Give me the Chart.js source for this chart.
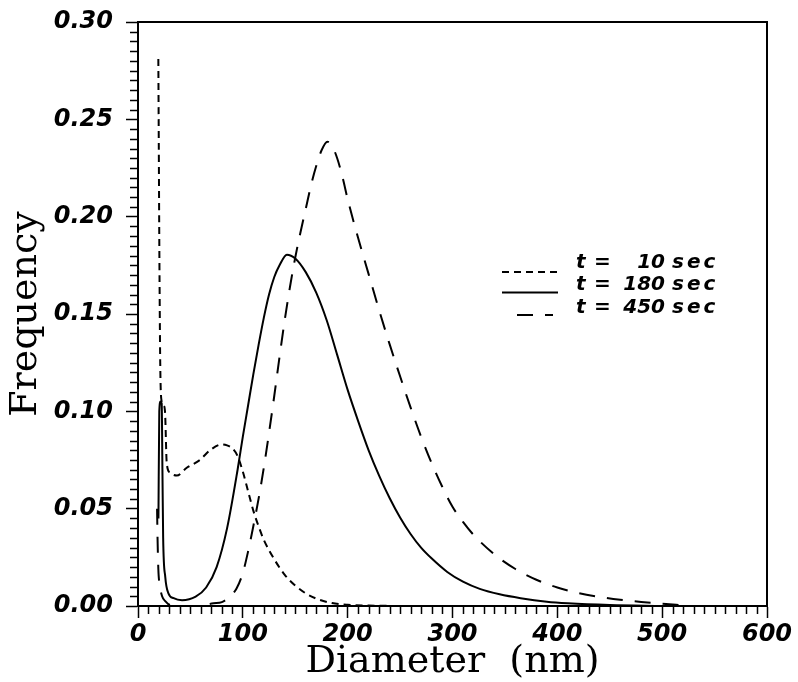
<!DOCTYPE html>
<html>
<head>
<meta charset="utf-8">
<script src="https://cdn.jsdelivr.net/npm/chart.js@4"></script>
<style>
  html, body { margin: 0; padding: 0; background: #ffffff; }
  #wrap { width: 798px; height: 682px; }
</style>
</head>
<body>
<div id="wrap"><canvas id="c" width="798" height="682"></canvas></div>
<script>
// ---- data ----
const seriesTimes = [10, 180, 450];

const t10X = [19.4, 19.8, 20.4, 21.2, 22.6, 24.5, 25.8, 27.4, 30.5, 37, 46.5, 59, 68.7, 80, 85, 90, 95, 100, 105, 110, 115, 120, 130, 140, 150, 160, 170, 185, 200, 220, 250];
const t10Y = [0.281, 0.24, 0.18, 0.125, 0.105, 0.103, 0.0995, 0.0735, 0.0685, 0.067, 0.071, 0.075, 0.080, 0.083, 0.0825, 0.081, 0.077, 0.069, 0.059, 0.049, 0.041, 0.034, 0.024, 0.016, 0.0105, 0.0065, 0.0038, 0.0015, 0.0006, 0.0002, 0];

const t180X = [19.5, 20.3, 21.5, 22.6, 23.3, 24, 26, 29, 34, 42, 55, 65, 75, 85, 95, 100, 105, 110, 115, 120, 125, 130, 135, 142, 150, 160, 170, 180, 190, 200, 210, 220, 230, 240, 250, 260, 270, 280, 295, 310, 326, 345, 365, 390, 410, 450, 500];
const t180Y = [0.045, 0.100, 0.105, 0.104, 0.07, 0.035, 0.015, 0.0065, 0.004, 0.003, 0.0048, 0.0095, 0.020, 0.040, 0.070, 0.087, 0.103, 0.119, 0.134, 0.148, 0.160, 0.169, 0.175, 0.1805, 0.1785, 0.1715, 0.161, 0.1468, 0.129, 0.111, 0.095, 0.080, 0.067, 0.0555, 0.0455, 0.037, 0.030, 0.0245, 0.0175, 0.0125, 0.0088, 0.006, 0.004, 0.0022, 0.0014, 0.0005, 0];

const t450X = [18.2, 18.6, 19.4, 21, 23, 26, 30.5, 40, 55, 72, 80, 88, 94, 100, 105, 110, 115, 120, 125, 130, 135, 140, 145, 150, 155, 160, 165, 170, 175, 180.7, 185, 190, 195, 200, 210, 220, 230, 240, 250, 260, 270, 280, 290, 300, 310, 320, 340, 360, 380, 400, 420, 440, 460, 480, 500, 520];
const t450Y = [0.050, 0.036, 0.019, 0.010, 0.005, 0.0025, 0.0005, 0, 0, 0.0014, 0.002, 0.005, 0.009, 0.017, 0.028, 0.041, 0.055, 0.071, 0.089, 0.108, 0.128, 0.147, 0.164, 0.179, 0.192, 0.204, 0.216, 0.226, 0.234, 0.2385, 0.2365, 0.230, 0.2205, 0.209, 0.189, 0.1705, 0.152, 0.1345, 0.118, 0.102, 0.087, 0.0735, 0.0615, 0.051, 0.0432, 0.0366, 0.0265, 0.019, 0.0135, 0.0095, 0.0067, 0.0047, 0.0032, 0.0021, 0.0012, 0.0004];

const xTickStep = 100, xMinorStep = 10, xMin = 0, xMax = 600;
const yTickStep = 0.05, yMinorStep = 0.005, yMin = 0, yMax = 0.30;

// ---- styling ----
const INK = '#000000';
const tickFont = { family: 'DejaVu Sans', size: 24, weight: 'bold', style: 'italic' };
const titleFont = { family: 'DejaVu Serif', size: 38, weight: 'normal' };
const dashShort = [7, 5];
const dashLong = [16, 12];
const dashes = [dashShort, [], dashLong];

function pts(xs, ys) { return xs.map((x, i) => ({ x: x, y: ys[i] })); }

const datasets = [
  { label: 't = ' + seriesTimes[0] + ' sec', data: pts(t10X, t10Y), borderDash: dashShort },
  { label: 't = ' + seriesTimes[1] + ' sec', data: pts(t180X, t180Y), borderDash: [] },
  { label: 't = ' + seriesTimes[2] + ' sec', data: pts(t450X, t450Y), borderDash: dashLong }
].map(d => Object.assign(d, {
  borderColor: INK, borderWidth: 2, pointRadius: 0, fill: false,
  cubicInterpolationMode: 'monotone', borderCapStyle: 'butt'
}));

const framePlugin = {
  id: 'frame',
  afterDraw(chart) {
    const ctx = chart.ctx, a = chart.chartArea;
    const xs = chart.scales.x, ys = chart.scales.y;
    ctx.save();
    ctx.strokeStyle = INK;
    ctx.lineWidth = 2;
    ctx.setLineDash([]);
    // top and right frame lines
    ctx.beginPath();
    ctx.moveTo(a.left, a.top); ctx.lineTo(a.right, a.top); ctx.lineTo(a.right, a.bottom);
    ctx.stroke();
    // minor ticks
    ctx.lineWidth = 1.5;
    ctx.beginPath();
    for (let v = xMin; v <= xMax + 1e-9; v += xMinorStep) {
      if (Math.abs(v / xTickStep - Math.round(v / xTickStep)) < 1e-6) continue;
      const px = Math.round(xs.getPixelForValue(v)) + 0.5;
      ctx.moveTo(px, a.bottom); ctx.lineTo(px, a.bottom + 8);
    }
    for (let k = 0; k <= Math.round((yMax - yMin) / yMinorStep); k++) {
      const v = yMin + k * yMinorStep;
      if (k % Math.round(yTickStep / yMinorStep) === 0) continue;
      const py = Math.round(ys.getPixelForValue(v)) + 0.5;
      ctx.moveTo(a.left, py); ctx.lineTo(a.left - 8, py);
    }
    ctx.stroke();

    // legend
    const rows = [
      { lineY: 272, textY: 268, x0: 502, x1: 558 },
      { lineY: 292.5, textY: 290, x0: 502, x1: 558 },
      { lineY: 315, textY: 313, x0: 517, x1: 553 }
    ];
    ctx.fillStyle = INK;
    ctx.textBaseline = 'alphabetic';
    rows.forEach((r, i) => {
      ctx.save();
      ctx.lineWidth = 2;
      ctx.setLineDash(dashes[i]);
      ctx.beginPath();
      ctx.moveTo(r.x0, r.lineY); ctx.lineTo(r.x1, r.lineY);
      ctx.stroke();
      ctx.restore();
      ctx.font = 'italic bold 20px "DejaVu Sans"';
      ctx.textAlign = 'left';
      ctx.fillText('t', 576, r.textY);
      ctx.fillText('=', 594, r.textY);
      ctx.textAlign = 'right';
      ctx.fillText(String(seriesTimes[i]), 665, r.textY);
      ctx.textAlign = 'left';
      ctx.letterSpacing = '3px';
      ctx.fillText('sec', 672, r.textY);
      ctx.letterSpacing = '0px';
    });
    ctx.restore();
  }
};

new Chart(document.getElementById('c'), {
  type: 'line',
  data: { datasets: datasets },
  options: {
    responsive: false,
    animation: false,
    layout: { padding: { top: 22, right: 31, left: 0, bottom: 0 } },
    plugins: { legend: { display: false }, tooltip: { enabled: false } },
    scales: {
      x: {
        type: 'linear', min: xMin, max: xMax,
        afterFit(scale) { scale.height = 76; },
        ticks: { stepSize: xTickStep, color: INK, font: tickFont, padding: 2, maxRotation: 0,
                 callback: v => String(v) },
        grid: { drawOnChartArea: false, drawTicks: true, tickLength: 12, tickColor: INK, tickWidth: 1.5 },
        border: { color: INK, width: 2 },
        title: { display: true, text: 'Diameter  (nm)', color: INK, font: titleFont, padding: { top: 0, bottom: -3 } }
      },
      y: {
        type: 'linear', min: yMin, max: yMax,
        afterFit(scale) { scale.width = 138; scale.paddingTop = 0; scale.paddingBottom = 0; },
        ticks: { stepSize: yTickStep, color: INK, font: tickFont, padding: 13,
                 callback: v => Number(v).toFixed(2) },
        grid: { drawOnChartArea: false, drawTicks: true, tickLength: 12, tickColor: INK, tickWidth: 1.5 },
        border: { color: INK, width: 2 },
        title: { display: true, text: 'Frequency', color: INK, font: titleFont, padding: { top: 3, bottom: 0 } }
      }
    }
  },
  plugins: [framePlugin]
});
</script>
</body>
</html>
